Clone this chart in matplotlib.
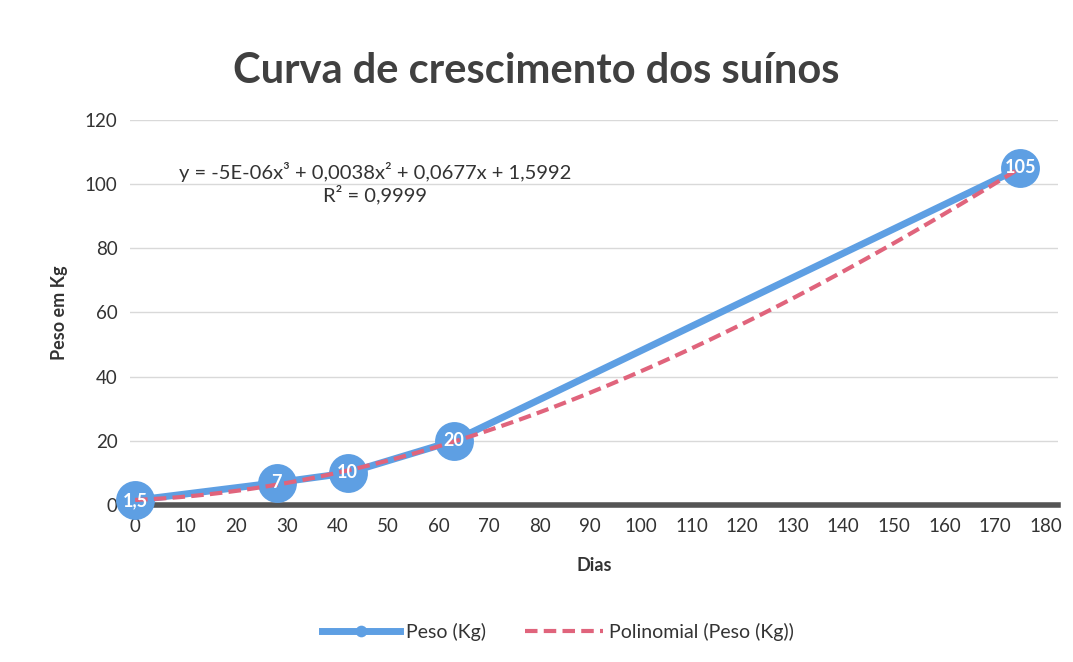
import numpy as np
import matplotlib
matplotlib.use("Agg")
import matplotlib.pyplot as plt

# Data
dias = [0, 28, 42, 63, 175]
peso = [1.5, 7, 10, 20, 105]
rotulos = ["1,5", "7", "10", "20", "105"]
x_ticks = list(range(0, 181, 10))
y_ticks = list(range(0, 121, 20))
equacao = "y = -5E-06x³ + 0,0038x² + 0,0677x + 1,5992\nR² = 0,9999"

plt.rcParams['font.family'] = ['Lato', 'DejaVu Sans']

fig = plt.figure(figsize=(10.73, 6.62), dpi=100)
ax = fig.add_axes([0.1212, 0.237, 0.865, 0.582])

azul = "#5E9FE3"
rosa = "#E0647C"

# cubic trendline fitted on the data (as Excel does)
coef = np.polyfit(dias, peso, 3)
xs = np.linspace(dias[0], dias[-1], 300)
ax.plot(xs, np.polyval(coef, xs), color=rosa, lw=3, ls=(0, (3, 1.5)),
        zorder=4, label="Polinomial (Peso (Kg))")

ax.plot(dias, peso, color=azul, lw=5, marker="o", markersize=28,
        markeredgewidth=0, clip_on=False, zorder=3, label="Peso (Kg)")
for x, y, t in zip(dias, peso, rotulos):
    ax.text(x, y, t, color="white", fontsize=13, fontweight="bold",
            ha="center", va="center", zorder=5, clip_on=False)

ax.set_xlim(-1, 182.5)
ax.set_ylim(0, 120)
ax.set_xticks(x_ticks)
ax.set_yticks(y_ticks)
ax.tick_params(length=0, labelsize=13.5, colors="#333333", pad=9)
ax.grid(axis="y", color="#d9d9d9", lw=1)
ax.set_axisbelow(True)
for s in ["top", "right", "left"]:
    ax.spines[s].set_visible(False)
ax.spines["bottom"].set_color("#555555")
ax.spines["bottom"].set_linewidth(4)
ax.spines["bottom"].set_zorder(2)

ax.set_xlabel("Dias", fontsize=13, fontweight="bold", color="#333333", labelpad=16)
ax.set_ylabel("Peso em Kg", fontsize=13, fontweight="bold", color="#333333", labelpad=12)

fig.text(0.5, 0.892, "Curva de crescimento dos suínos", ha="center", va="center",
         fontsize=30, fontweight="bold", color="#404040")

ax.text(0.264, 0.836, equacao, transform=ax.transAxes, ha="center", va="center",
        fontsize=14.5, color="#333333", linespacing=1.2)

leg = fig.legend(loc="center", bbox_to_anchor=(0.52, 0.046), ncol=2, frameon=False,
                 fontsize=14, handlelength=4, columnspacing=2.0, handletextpad=0.3,
                 handles=ax.get_lines()[::-1], markerscale=0.3)
for t in leg.get_texts():
    t.set_color("#333333")

fig.savefig("out.png", dpi=100, facecolor="white")
